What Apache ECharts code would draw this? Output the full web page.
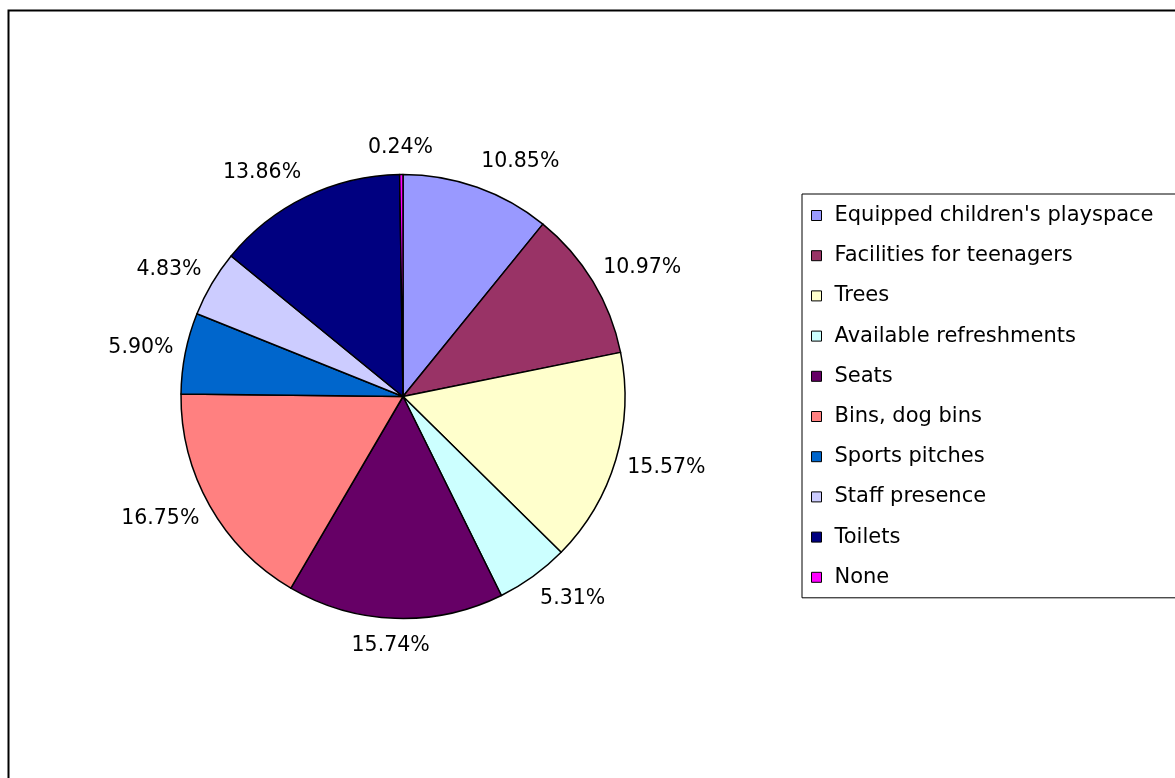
<!DOCTYPE html>
<html>
<head>
<meta charset="utf-8">
<script src="https://cdn.jsdelivr.net/npm/echarts@6/dist/echarts.min.js"></script>
<style>
html,body{margin:0;padding:0;background:#fff;}
#main{width:1175px;height:778px;}
</style>
</head>
<body>
<div id="main"></div>
<script>
var categories = ["Equipped children's playspace", "Facilities for teenagers", "Trees", "Available refreshments", "Seats", "Bins, dog bins", "Sports pitches", "Staff presence", "Toilets", "None"];
var values = [10.85, 10.97, 15.57, 5.31, 15.74, 16.75, 5.90, 4.83, 13.86, 0.24];
var colors = ['#9999FF', '#993366', '#FFFFCC', '#CCFFFF', '#660066', '#FF8080', '#0066CC', '#CCCCFF', '#000080', '#FF00FF'];

var CX = 403, CY = 396.5, R = 222, GAP = 12;
var total = values.reduce(function(a, b){ return a + b; }, 0);
var mids = [];
(function(){
  var acc = 0;
  for (var i = 0; i < values.length; i++) {
    mids.push((acc + values[i] / 2) / total * Math.PI * 2);
    acc += values[i];
  }
})();

var chart = echarts.init(document.getElementById('main'), null, {renderer: 'canvas'});
var FONT = 'DejaVu Sans, Liberation Sans, Arial, sans-serif';
chart.setOption({
  backgroundColor: '#fff',
  animation: false,
  graphic: [{
    type: 'rect',
    shape: {x: 8.5, y: 10.5, width: 1400, height: 1000},
    style: {fill: 'none', stroke: '#000', lineWidth: 2},
    silent: true, z: -1
  }],
  legend: {
    orient: 'vertical',
    left: 802,
    top: 194,
    padding: [11, 300, 10, 9],
    borderColor: '#000',
    borderWidth: 1,
    itemWidth: 10,
    itemHeight: 10,
    itemGap: 19.2,
    icon: 'rect',
    selectedMode: false,
    itemStyle: {borderColor: '#000', borderWidth: 1},
    textStyle: {fontFamily: FONT, fontSize: 21, color: '#000', lineHeight: 21, padding: [0, 0, 0, 8]},
    data: categories
  },
  series: [{
    type: 'pie',
    center: [CX, CY],
    radius: [0, R],
    startAngle: 90,
    clockwise: true,
    avoidLabelOverlap: false,
    silent: true,
    itemStyle: {borderColor: '#000', borderWidth: 1.5},
    label: {
      show: true,
      position: 'outside',
      fontFamily: FONT,
      fontSize: 20.5,
      color: '#000',
      formatter: function(p){ return p.value.toFixed(2) + '%'; }
    },
    labelLine: {show: false},
    labelLayout: function(p){
      var t = mids[p.dataIndex];
      var ux = Math.sin(t), uy = -Math.cos(t);
      var w = p.labelRect.width;
      var ax = CX + ux * (R + GAP), ay = CY + uy * (R + GAP);
      var sx = (ux >= 0 ? 1 : -1) * Math.min(1, Math.abs(ux) * 3);
      return {x: ax + sx * w / 2, y: ay + uy * 15, align: 'center', verticalAlign: 'middle'};
    },
    data: categories.map(function(c, i){
      return {name: c, value: values[i], itemStyle: {color: colors[i]}};
    })
  }]
});
</script>
</body>
</html>
